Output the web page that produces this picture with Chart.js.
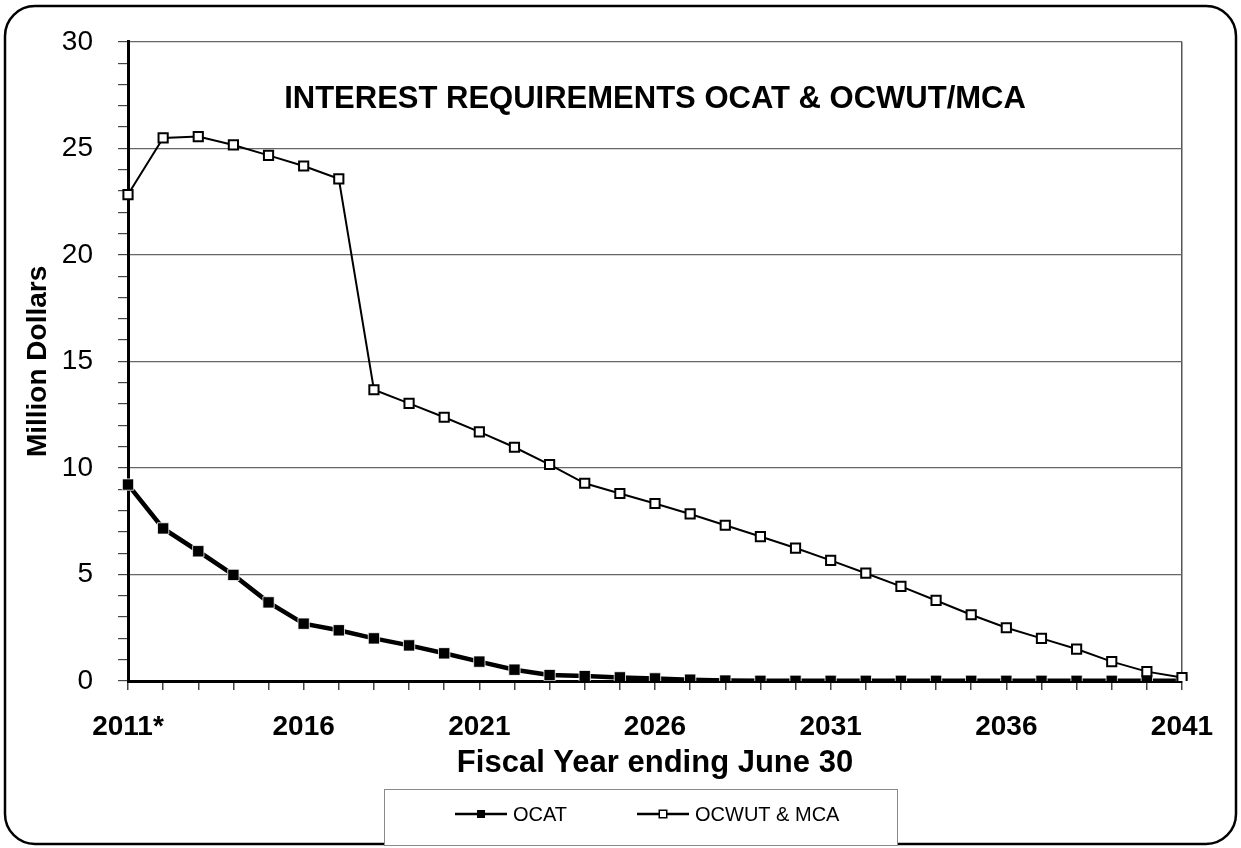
<!DOCTYPE html>
<html>
<head>
<meta charset="utf-8">
<title>Interest Requirements</title>
<script src="https://cdn.jsdelivr.net/npm/chart.js@4.4.1/dist/chart.umd.min.js"></script>
<style>
  html, body { margin: 0; padding: 0; background: #fff; }
  #wrap { width: 1241px; height: 848px; position: relative; }
</style>
</head>
<body>
<div id="wrap"><canvas id="chart" width="1241" height="848"></canvas></div>
<script>
// fiscal years on the x axis
var years = [2011, 2012, 2013, 2014, 2015, 2016, 2017, 2018, 2019, 2020,
             2021, 2022, 2023, 2024, 2025, 2026, 2027, 2028, 2029, 2030,
             2031, 2032, 2033, 2034, 2035, 2036, 2037, 2038, 2039, 2040, 2041];
// only every fifth year gets a label
var yearTickLabels = { 2011: '2011*', 2016: '2016', 2021: '2021', 2026: '2026',
                       2031: '2031', 2036: '2036', 2041: '2041' };

// interest, million dollars
var ocat = [9.22, 7.16, 6.09, 4.98, 3.69, 2.69, 2.38, 2.0, 1.67, 1.3,
            0.91, 0.53, 0.28, 0.23, 0.17, 0.12, 0.06, 0.02, 0.01, 0.01,
            0.01, 0.01, 0.01, 0.01, 0.01, 0.01, 0.01, 0.01, 0.01, 0.01, 0.01];
var ocwut = [22.83, 25.49, 25.55, 25.16, 24.67, 24.17, 23.57, 13.67, 13.03, 12.38,
             11.69, 10.97, 10.16, 9.28, 8.8, 8.33, 7.84, 7.31, 6.78, 6.24,
             5.66, 5.06, 4.44, 3.78, 3.11, 2.5, 2.0, 1.5, 0.91, 0.44, 0.16];

var chartTitle = 'INTEREST REQUIREMENTS OCAT & OCWUT/MCA';
var FONT = '"Liberation Sans", Arial, sans-serif';

// frame, inner title and legend box
var decorations = {
  id: 'decorations',
  afterDatasetsDraw: function(chart) {
    var ctx = chart.ctx;
    var area = chart.chartArea;
    ctx.save();
    ctx.fillStyle = '#000';
    ctx.font = 'bold 31px ' + FONT;
    ctx.textAlign = 'center';
    ctx.textBaseline = 'middle';
    ctx.fillText(chartTitle, (area.left + area.right) / 2, 99);
    ctx.restore();
  },
  afterDraw: function(chart) {
    var ctx = chart.ctx;
    ctx.save();
    // rounded outer frame
    ctx.strokeStyle = '#000';
    ctx.lineWidth = 2.5;
    ctx.beginPath();
    ctx.roundRect(5, 6, 1231, 838, 30);
    ctx.stroke();

    // legend box
    var lx = 384, ly = 789, lw = 513, lh = 56;
    ctx.fillStyle = '#fff';
    ctx.fillRect(lx, ly, lw, lh);
    ctx.strokeStyle = '#8a8a8a';
    ctx.lineWidth = 1;
    ctx.strokeRect(lx + 0.5, ly + 0.5, lw, lh);

    var entries = [
      { ds: chart.data.datasets[1], x: 455, s: 6 },
      { ds: chart.data.datasets[0], x: 637, s: 7 }
    ];
    var cy = 814;
    entries.forEach(function(e) {
      var ds = e.ds;
      ctx.strokeStyle = ds.borderColor;
      ctx.lineWidth = 2.5;
      ctx.beginPath();
      ctx.moveTo(e.x, cy);
      ctx.lineTo(e.x + 52, cy);
      ctx.stroke();
      var s = e.s, mx = e.x + 26;
      ctx.fillStyle = ds.pointBorderColor === '#000' ? '#000' : ds.pointBackgroundColor;
      ctx.fillRect(mx - s / 2 - 1, cy - s / 2 - 1, s + 2, s + 2);
      ctx.fillStyle = ds.pointBackgroundColor;
      ctx.fillRect(mx - s / 2 + 0.5, cy - s / 2 + 0.5, s - 1, s - 1);
      ctx.fillStyle = '#000';
      ctx.font = '20px ' + FONT;
      ctx.textAlign = 'left';
      ctx.textBaseline = 'middle';
      ctx.fillText(ds.label, e.x + 58, cy + 1);
    });
    ctx.restore();
  }
};

new Chart(document.getElementById('chart'), {
  type: 'line',
  data: {
    labels: years,
    datasets: [
      {
        label: 'OCWUT & MCA',
        data: ocwut,
        borderColor: '#000',
        borderWidth: 2,
        pointStyle: 'rect',
        pointRadius: 6.5,
        pointBackgroundColor: '#fff',
        pointBorderColor: '#000',
        pointBorderWidth: 2,
        tension: 0,
        order: 1
      },
      {
        label: 'OCAT',
        data: ocat,
        borderColor: '#000',
        borderWidth: 4.5,
        pointStyle: 'rect',
        pointRadius: 8,
        pointBackgroundColor: '#000',
        pointBorderColor: 'rgba(255,255,255,0.8)',
        pointBorderWidth: 1,
        tension: 0,
        order: 2
      }
    ]
  },
  options: {
    responsive: false,
    animation: false,
    layout: { padding: { left: 21, top: 41, right: 59, bottom: 66 } },
    plugins: {
      legend: { display: false },
      tooltip: { enabled: false }
    },
    scales: {
      x: {
        type: 'category',
        offset: false,
        afterFit: function(scale) { scale.height = 101; },
        border: { color: '#000', width: 3 },
        grid: {
          drawOnChartArea: true,
          color: function(c) { return c.index === years.length - 1 ? '#555' : 'rgba(0,0,0,0)'; },
          tickColor: '#444',
          tickLength: 9,
          lineWidth: 1.5
        },
        ticks: {
          autoSkip: false,
          maxRotation: 0,
          padding: 20,
          color: '#000',
          font: { family: FONT, size: 28, weight: 'bold' },
          callback: function(v, i) { return yearTickLabels[years[i]] || ''; }
        },
        title: {
          display: true,
          text: 'Fiscal Year ending June 30',
          color: '#000',
          padding: 0,
          font: { family: FONT, size: 31, weight: 'bold' }
        }
      },
      y: {
        min: 0,
        max: 30,
        afterFit: function(scale) { scale.width = 107; },
        border: { color: '#000', width: 3 },
        grid: {
          color: function(c) { return c.tick.value % 5 === 0 && c.tick.value > 0 ? '#666' : 'rgba(0,0,0,0)'; },
          tickColor: '#444',
          tickLength: 10,
          lineWidth: 1.2
        },
        ticks: {
          stepSize: 1,
          autoSkip: false,
          padding: 25,
          color: '#000',
          font: { family: FONT, size: 28 },
          callback: function(v) { return v % 5 === 0 ? String(v) : ''; }
        },
        title: {
          display: true,
          text: 'Million Dollars',
          color: '#000',
          padding: 0,
          font: { family: FONT, size: 28, weight: 'bold' }
        }
      }
    }
  },
  plugins: [decorations]
});
</script>
</body>
</html>
